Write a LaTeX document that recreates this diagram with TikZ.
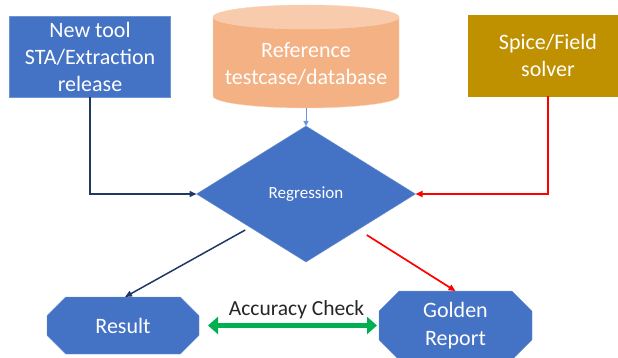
\documentclass[tikz,border=0pt]{standalone}
\usepackage{fontspec}
\setmainfont{Carlito}
\usetikzlibrary{shapes.geometric,shapes.misc,arrows.meta}
\definecolor{boxblue}{HTML}{4472C4}
\definecolor{boxedge}{HTML}{6F93D3}
\definecolor{navy}{HTML}{203864}
\definecolor{gold}{HTML}{BF9000}
\definecolor{peach}{HTML}{F4B183}
\definecolor{peachtop}{HTML}{F8CBAD}
\definecolor{peachedge}{HTML}{F9D3B5}
\definecolor{okgreen}{HTML}{00B050}
\definecolor{linkblue}{HTML}{6A95DC}

\begin{document}
\begin{tikzpicture}[x=1pt,y=-1pt,
    every node/.style={font=\fontsize{22}{27}\selectfont,text=white,align=center,inner sep=0pt,outer sep=0pt},
    srcbox/.style={draw=boxedge,fill=boxblue,minimum width=161pt,minimum height=81pt},
    outbox/.style={chamfered rectangle,chamfered rectangle xsep=9pt,chamfered rectangle ysep=11pt,
      draw=boxedge,fill=boxblue,minimum width=152pt,minimum height=57pt},
    tip/.style={-{Triangle[length=7pt,width=6pt]}}
  ]
    \useasboundingbox (0,0) rectangle (618,358);

    % reference database
    \fill[peach] (213,17) -- (213,96) arc[start angle=180,end angle=0,x radius=93,y radius=12] -- (399,17) -- cycle;
    \draw[peachedge] (213,17) -- (213,96) arc[start angle=180,end angle=0,x radius=93,y radius=12] -- (399,17);
    \filldraw[fill=peachtop,draw=peachedge] (306,17) ellipse[x radius=93,y radius=12];
    \node (ref) at (306,64) {Reference\\testcase/database};
    \coordinate (refbase) at (306,108);

    \node[srcbox] (tool) at (90,56.5) {New tool\\STA/Extraction\\release};
    \node[srcbox,fill=gold,draw=gold,minimum width=160pt] (spice) at (548,55.5) {Spice/Field\\solver};

    \node[diamond,fill=boxblue,draw=boxedge,minimum width=219pt,minimum height=136pt,
      font=\fontsize{17}{20}\selectfont] (reg) at (306,194) {Regression};

    \node[outbox] (res) at (123,325.5) {Result};
    \node[outbox,minimum width=153pt] (gold) at (455.5,325.5) {Golden\\[1pt]Report};

    \draw[linkblue,-{Triangle[length=5pt,width=5pt]}] (refbase) -- (reg.north);
    \draw[navy,line width=1.5pt,tip] (tool.south) |- (reg.west);
    \draw[red,line width=1.7pt,tip] (spice.south) |- (reg.east);
    \draw[navy,line width=1.5pt,tip] ([shift={(-6,2)}]reg.south west) -- ([xshift=2pt]res.north);
    \draw[red,line width=1.7pt,tip] ([shift={(6,7)}]reg.south east) -- (gold.north);

    \draw[okgreen,line width=4.5pt,{Triangle[length=10pt,width=17pt]}-{Triangle[length=10pt,width=17pt]}]
      ([xshift=9pt]res.east) -- ([xshift=-2pt]gold.west);
    \node[text=black!85,font=\fontsize{21.5}{25}\selectfont,anchor=base] (acc) at (296.5,315) {Accuracy Check};
  \end{tikzpicture}
\end{document}
